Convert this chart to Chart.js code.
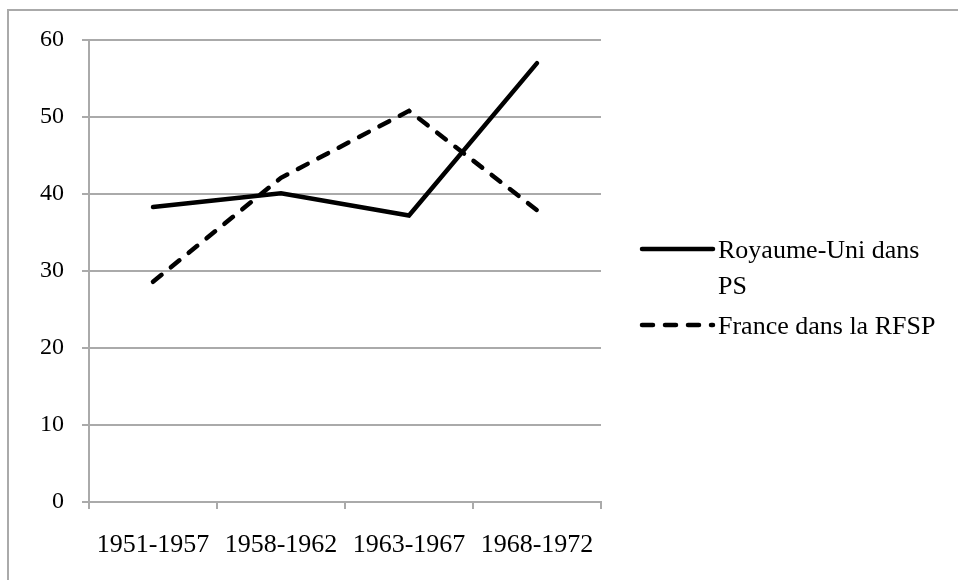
<!DOCTYPE html>
<html>
<head>
<meta charset="utf-8">
<script src="https://cdn.jsdelivr.net/npm/chart.js@4/dist/chart.umd.min.js"></script>
<style>
  body { margin: 0; background: #fff; }
  #wrap { position: relative; width: 958px; height: 580px; overflow: hidden; }
  #frame { position: absolute; left: 7px; top: 9px; width: 1000px; height: 700px; border: 2px solid #aaa; }
  #c { position: absolute; left: 0; top: 0; }
</style>
</head>
<body>
<div id="wrap">
  <div id="frame"></div>
  <canvas id="c" width="958" height="580"></canvas>
</div>
<script>
var periods = ['1951-1957', '1958-1962', '1963-1967', '1968-1972'];
var royaumeUni = [38.3, 40.1, 37.2, 57.0];
var france = [28.6, 42.1, 50.8, 37.9];
var seriesNames = [['Royaume-Uni dans', 'PS'], ['France dans la RFSP']];
var yTicks = [0, 10, 20, 30, 40, 50, 60];

var family = '"Liberation Serif", "Times New Roman", serif';
var yFont = { family: family, size: 24 };
var xFont = { family: family, size: 26 };
var grey = '#aaa';

// legend drawn by hand so the first label can wrap like the original
var sideLegend = {
  id: 'sideLegend',
  afterDraw: function (chart) {
    var ctx = chart.ctx;
    var rows = [249, 325];
    ctx.save();
    ctx.font = '26px ' + family;
    ctx.fillStyle = '#000';
    ctx.textBaseline = 'middle';
    chart.data.datasets.forEach(function (ds, i) {
      var y = rows[i];
      ctx.beginPath();
      ctx.lineWidth = ds.borderWidth;
      ctx.strokeStyle = ds.borderColor;
      ctx.lineCap = ds.borderCapStyle || 'butt';
      ctx.setLineDash(ds.borderDash || []);
      ctx.moveTo(642, y);
      ctx.lineTo(713, y);
      ctx.stroke();
      var lines = seriesNames[i];
      for (var j = 0; j < lines.length; j++) {
        ctx.fillText(lines[j], 718, y + 2 + j * 36);
      }
    });
    ctx.restore();
  }
};

new Chart(document.getElementById('c'), {
  type: 'line',
  data: {
    labels: periods,
    datasets: [
      {
        label: seriesNames[0].join(' '),
        data: royaumeUni,
        borderColor: '#000',
        borderWidth: 4.5,
        borderCapStyle: 'round',
        pointRadius: 0,
        tension: 0
      },
      {
        label: seriesNames[1].join(' '),
        data: france,
        borderColor: '#000',
        borderWidth: 4.5,
        borderDash: [11, 12],
        borderCapStyle: 'round',
        pointRadius: 0,
        tension: 0
      }
    ]
  },
  options: {
    responsive: false,
    animation: false,
    layout: { padding: { left: 0, top: 40, right: 357, bottom: 0 } },
    plugins: {
      legend: { display: false },
      tooltip: { enabled: false }
    },
    scales: {
      x: {
        offset: true,
        grid: { offset: true, drawOnChartArea: false, drawTicks: true, tickLength: 7, color: grey, lineWidth: 2 },
        border: { color: grey, width: 2 },
        ticks: { color: '#000', font: xFont, padding: 21, maxRotation: 0 },
        afterFit: function (s) { s.height = 78; }
      },
      y: {
        min: 0,
        max: 60,
        afterBuildTicks: function (s) { s.ticks = yTicks.map(function (v) { return { value: v }; }); },
        grid: { color: grey, lineWidth: 2, tickLength: 7 },
        border: { color: grey, width: 2 },
        ticks: { color: '#000', font: yFont, padding: 18 },
        afterFit: function (s) { s.width = 89; }
      }
    }
  },
  plugins: [sideLegend]
});
</script>
</body>
</html>
